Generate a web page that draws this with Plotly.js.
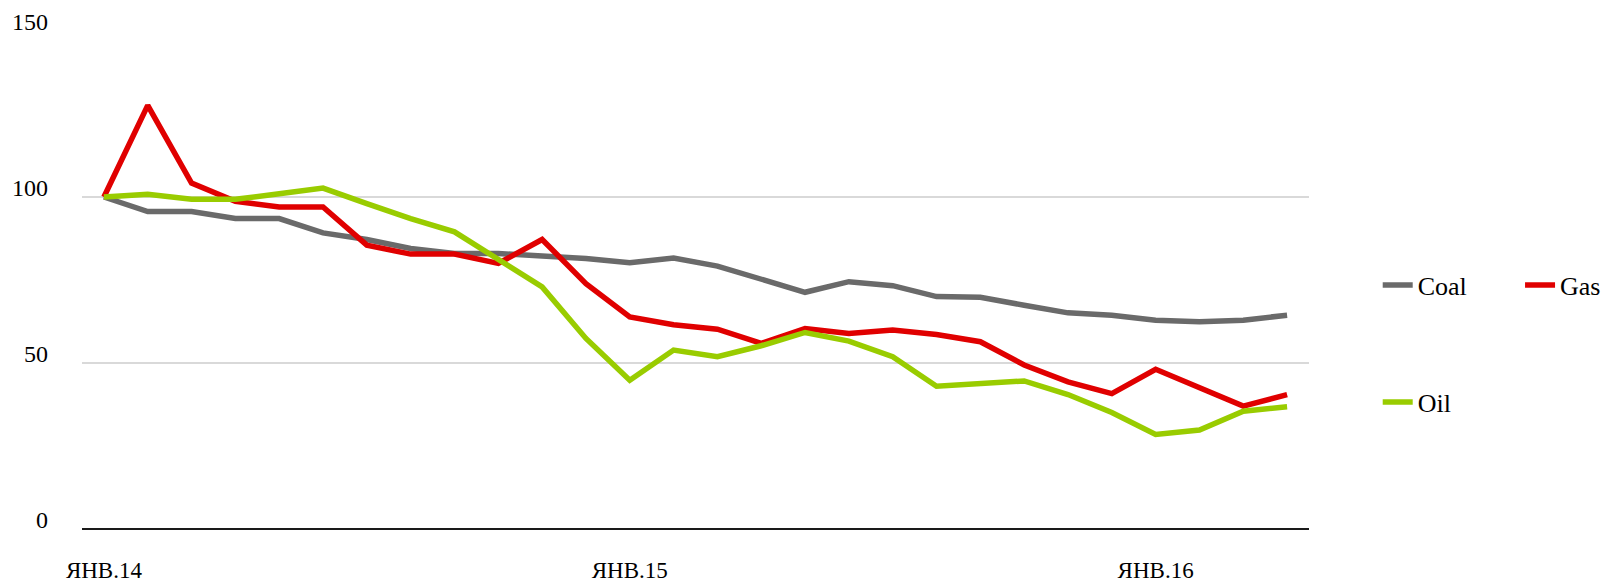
<!DOCTYPE html>
<html>
<head>
<meta charset="utf-8">
<script src="https://cdn.plot.ly/plotly-3.0.1.min.js"></script>
<style>
  body { margin: 0; background: #fff; }
  #graph { width: 1604px; height: 586px; }
</style>
</head>
<body>
<div id="graph"></div>
<script>
// monthly, Jan 2014 .. Apr 2016 (index = 100 in Jan 2014)
var months = ['2014-01','2014-02','2014-03','2014-04','2014-05','2014-06','2014-07','2014-08','2014-09','2014-10','2014-11','2014-12',
              '2015-01','2015-02','2015-03','2015-04','2015-05','2015-06','2015-07','2015-08','2015-09','2015-10','2015-11','2015-12',
              '2016-01','2016-02','2016-03','2016-04'];

var coal = [100, 95.6, 95.6, 93.5, 93.5, 89.2, 87.2, 84.5, 83, 83, 82.2, 81.5,
            80.2, 81.6, 79.2, 75.4, 71.3, 74.5, 73.3, 70, 69.8, 67.4, 65.1, 64.4,
            62.9, 62.4, 62.9, 64.4];

var gas = [100, 127.6, 104.2, 98.7, 97, 97, 85.5, 82.8, 82.8, 80, 87.2, 73.9,
           63.9, 61.5, 60.2, 55.9, 60.4, 58.9, 59.9, 58.6, 56.4, 49.4, 44.3, 40.8,
           48.1, 42.6, 37, 40.5];

var oil = [100, 100.8, 99.3, 99.3, 101, 102.7, 98, 93.5, 89.5, 81, 72.9, 57.4,
           44.8, 53.9, 51.9, 55.2, 59.2, 56.6, 51.9, 43, 43.8, 44.6, 40.5, 35.1,
           28.5, 29.8, 35.5, 36.8];

var tickVals = ['2014-01', '2015-01', '2016-01'];
var tickText = ['ЯНВ.14', 'ЯНВ.15', 'ЯНВ.16'];

var font = 'Liberation Serif, DejaVu Serif, serif';

function line(name, y, color, legend) {
    return {
        type: 'scatter',
        mode: 'lines',
        name: name,
        x: months,
        y: y,
        legend: legend,
        line: { color: color, width: 5.5 }
    };
}

var traces = [
    line('Coal', coal, '#6a6a6a', 'legend'),
    line('Gas', gas, '#e00000', 'legend2'),
    line('Oil', oil, '#99cc00', 'legend3')
];

var legendBase = {
    font: { family: font, size: 26, color: '#000' },
    bgcolor: 'rgba(0,0,0,0)',
    xanchor: 'left',
    yanchor: 'middle',
    itemwidth: 30
};

var layout = {
    width: 1604,
    height: 586,
    margin: { l: 82, r: 295, t: 31, b: 57, autoexpand: false },
    paper_bgcolor: '#fff',
    plot_bgcolor: '#fff',
    font: { family: font, color: '#000' },
    showlegend: true,
    legend: Object.assign({}, legendBase, { x: 1.056, y: 0.49 }),
    legend2: Object.assign({}, legendBase, { x: 1.172, y: 0.49 }),
    legend3: Object.assign({}, legendBase, { x: 1.056, y: 0.255 }),
    xaxis: {
        type: 'category',
        range: [-0.5, months.length - 0.5],
        tickvals: tickVals,
        ticktext: tickText,
        tickfont: { family: font, size: 23, color: '#000' },
        ticks: '',
        ticklabelstandoff: 25,
        showgrid: false,
        showline: false,
        zeroline: false
    },
    yaxis: {
        range: [0, 150],
        tickvals: [0, 50, 100, 150],
        tickfont: { family: font, size: 24, color: '#000' },
        ticks: '',
        ticklabelshift: -9,
        ticklabelstandoff: 33,
        showgrid: true,
        gridcolor: '#d9d9d9',
        gridwidth: 2,
        zeroline: true,
        zerolinecolor: '#1a1a1a',
        zerolinewidth: 2,
        showline: false
    }
};

Plotly.newPlot('graph', traces, layout, { displayModeBar: false, staticPlot: true });
</script>
</body>
</html>
